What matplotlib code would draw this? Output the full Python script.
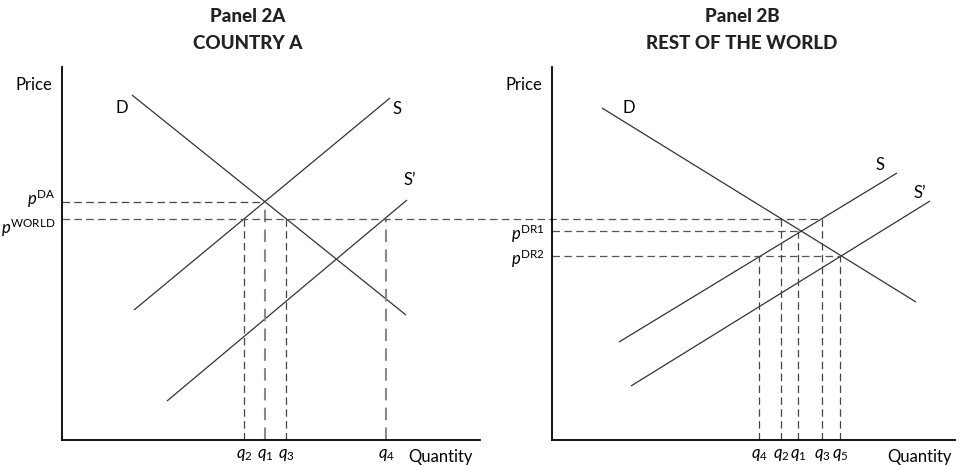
import matplotlib.pyplot as plt

plt.rcParams['font.family'] = ['Lato', 'DejaVu Sans']
plt.rcParams['mathtext.fontset'] = 'custom'
plt.rcParams['mathtext.rm'] = 'Lato'
plt.rcParams['mathtext.it'] = 'Lato:italic'

# Panel 2A (country A): curve end points (quantity, price)
a_demand = [(70, 345), (344, 125)]
a_supply = [(72, 130), (328, 342)]
a_supply2 = [(105, 39), (345, 240)]
a_prices = [238, 221]          # p_DA, p_WORLD
a_price_labels = [r'$p^{\mathrm{DA}}$', r'$p^{\mathrm{WORLD}}$']
a_qty = [182, 203, 224, 324]   # q2, q1, q3, q4
a_qty_labels = [r'$q_2$', r'$q_1$', r'$q_3$', r'$q_4$']

# Panel 2B (rest of the world)
b_demand = [(50, 332), (364, 138)]
b_supply = [(67, 98), (345, 267)]
b_supply2 = [(79, 54), (378, 239)]
b_prices = [209, 184]          # p_DR1, p_DR2
b_price_labels = [r'$p^{\mathrm{DR1}}$', r'$p^{\mathrm{DR2}}$']
b_qty = [207, 229, 246, 270, 288]   # q4, q2, q1, q3, q5
b_qty_labels = [r'$q_4$', r'$q_2$', r'$q_1$', r'$q_3$', r'$q_5$']

W, H = 961, 465
fig = plt.figure(figsize=(W / 100, H / 100), dpi=100)
axA = fig.add_axes([62 / W, 25 / H, 418 / W, 373 / H])
axB = fig.add_axes([552 / W, 25 / H, 403 / W, 373 / H])
axA.set_xlim(0, 418)
axB.set_xlim(0, 403)

LINE = '#333333'
DARK = '#444444'
GREY = '#8a8a8a'
FS = 12


def curve(ax, pts):
    xs, ys = zip(*pts)
    ax.plot(xs, ys, color=LINE, lw=0.9, solid_capstyle='butt')


def vdash(ax, x, ytop, color=DARK, lw=0.9):
    ax.plot([x, x], [0, ytop], color=color, lw=lw, dashes=(6, 3.5))


def hdash(ax, y, xright, color=DARK, lw=0.9):
    ax.plot([0, xright], [y, y], color=color, lw=lw, dashes=(6, 3.5))


def price_labels(ax, prices, labels, shifts):
    for p, lab, dy in zip(prices, labels, shifts):
        ax.annotate(lab, xy=(0, p), xytext=(-5, dy), textcoords='offset points',
                    fontsize=FS, ha='right', va='center')


for ax in (axA, axB):
    ax.set_ylim(0, 373)
    ax.spines[['top', 'right']].set_visible(False)
    for s in ('left', 'bottom'):
        ax.spines[s].set_linewidth(1.3)
        ax.spines[s].set_color('black')
    ax.tick_params(length=0, labelsize=FS)
    ax.tick_params(axis='x', pad=5)
    ax.set_yticks([])
    ax.set_facecolor('none')

# ---- Panel A ----
curve(axA, a_demand)
curve(axA, a_supply)
curve(axA, a_supply2)
hdash(axA, a_prices[0], a_qty[1], color=DARK)
vdash(axA, a_qty[0], a_prices[1], color=DARK)
vdash(axA, a_qty[1], a_prices[0], color=GREY, lw=1.5)
vdash(axA, a_qty[2], a_prices[1], color=DARK)
vdash(axA, a_qty[3], a_prices[1], color=GREY, lw=1.5)
axA.set_xticks(a_qty, a_qty_labels)
price_labels(axA, a_prices, a_price_labels, [2, -6])

# world price runs across to q3 of panel B
xB = axB.transData.transform((b_qty[3], a_prices[1]))
x_end = axA.transData.inverted().transform(xB)[0]
axA.plot([0, x_end], [a_prices[1]] * 2, color='#555555', lw=0.9,
         dashes=(6, 3.5), clip_on=False)

axA.text(60, 332, 'D', fontsize=FS, ha='center', va='center')
axA.text(335, 331, 'S', fontsize=FS, ha='center', va='center')
axA.text(348, 260, 'S\u2019', fontsize=FS, ha='center', va='center')

# ---- Panel B ----
curve(axB, b_demand)
curve(axB, b_supply)
curve(axB, b_supply2)
hdash(axB, b_prices[0], b_qty[2], color='#555555')
hdash(axB, b_prices[1], b_qty[4], color='#555555')
vdash(axB, b_qty[0], b_prices[1])
vdash(axB, b_qty[1], a_prices[1])
vdash(axB, b_qty[2], b_prices[0])
vdash(axB, b_qty[3], a_prices[1])
vdash(axB, b_qty[4], b_prices[1])
axB.set_xticks(b_qty, b_qty_labels)
price_labels(axB, b_prices, b_price_labels, [-2, -2])

axB.text(77, 332, 'D', fontsize=FS, ha='center', va='center')
axB.text(328, 275, 'S', fontsize=FS, ha='center', va='center')
axB.text(368, 247, 'S\u2019', fontsize=FS, ha='center', va='center')

# axis names
for ax, xq in ((axA, 346), (axB, 335)):
    ax.text(xq, -0.045, 'Quantity', transform=ax.get_xaxis_transform(),
            fontsize=FS, ha='left', va='center')
    ax.annotate('Price', xy=(0, 355), xytext=(-7, 0), textcoords='offset points',
                fontsize=FS, ha='right', va='center')

# panel titles
for xc, t1, t2 in ((248, 'Panel 2A', 'COUNTRY A'), (742, 'Panel 2B', 'REST OF THE WORLD')):
    fig.text(xc / W, 1 - 16 / H, t1, fontsize=13.5, fontweight='black',
             ha='center', va='center', color='#222222')
    fig.text(xc / W, 1 - 43 / H, t2, fontsize=13.5, fontweight='black',
             ha='center', va='center', color='#222222')

fig.savefig('out.png', dpi=100)
